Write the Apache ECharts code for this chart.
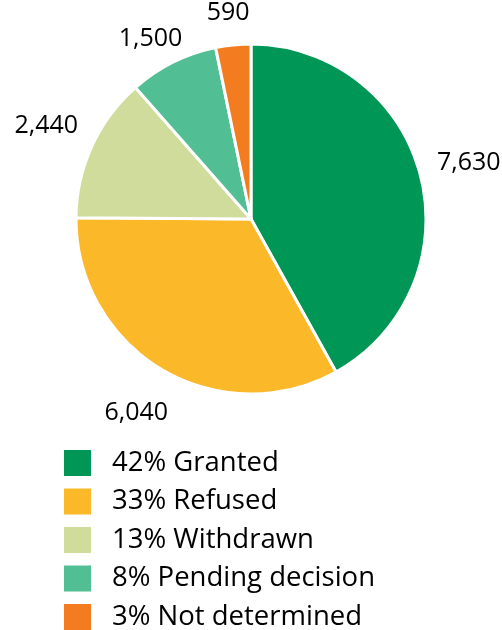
<!DOCTYPE html>
<html>
<head>
<meta charset="utf-8">
<script src="https://cdn.jsdelivr.net/npm/echarts@6/dist/echarts.min.js"></script>
<style>
  html, body { margin: 0; padding: 0; background: #fff; }
  #chart { width: 502px; height: 630px; }
</style>
</head>
<body>
<div id="chart"></div>
<script>
// Application outcomes
const categories = ['Granted', 'Refused', 'Withdrawn', 'Pending decision', 'Not determined'];
const counts = [7630, 6040, 2440, 1500, 590];
const palette = ['#009655', '#FBB829', '#CFDC9B', '#52BE94', '#F47C20'];

const total = counts.reduce((a, b) => a + b, 0);
const shareOf = {};
categories.forEach((c, i) => { shareOf[c] = Math.round(counts[i] / total * 100); });

const pieData = categories.map((name, i) => ({ name, value: counts[i] }));
const fmt = v => v.toLocaleString('en-US');
const FONT = '"Open Sans", "Liberation Sans", sans-serif';

const chart = echarts.init(document.getElementById('chart'), null, { renderer: 'canvas' });
chart.setOption({
  animation: false,
  color: palette,
  legend: {
    orient: 'vertical',
    left: 62,
    top: 448,
    height: 240,
    padding: 0,
    icon: 'rect',
    itemWidth: 29,
    itemHeight: 28,
    itemGap: 8.5,
    selectedMode: false,
    data: categories,
    formatter: name => shareOf[name] + '% ' + name,
    textStyle: {
      fontFamily: FONT,
      fontSize: 27.5,
      color: '#000',
      padding: [0, 0, 0, 15]
    }
  },
  series: [
    {
      // the pie itself
      type: 'pie',
      center: [251, 219],
      radius: 175,
      startAngle: 90,
      clockwise: true,
      silent: true,
      label: { show: false },
      labelLine: { show: false },
      itemStyle: { borderColor: '#fff', borderWidth: 3 },
      emphasis: { disabled: true },
      data: pieData
    },
    {
      // invisible ring that carries the value labels just outside the pie
      type: 'pie',
      center: [251, 219],
      radius: [200, 244],
      startAngle: 90,
      clockwise: true,
      silent: true,
      itemStyle: { color: 'transparent', borderWidth: 0 },
      emphasis: { disabled: true },
      labelLine: { show: false },
      label: {
        show: true,
        position: 'inside',
        fontFamily: FONT,
        fontSize: 25,
        lineHeight: 26,
        color: '#000',
        formatter: p => fmt(p.value)
      },
      labelLayout: { moveOverlap: 'shiftY' },
      data: pieData
    }
  ]
});
</script>
</body>
</html>
